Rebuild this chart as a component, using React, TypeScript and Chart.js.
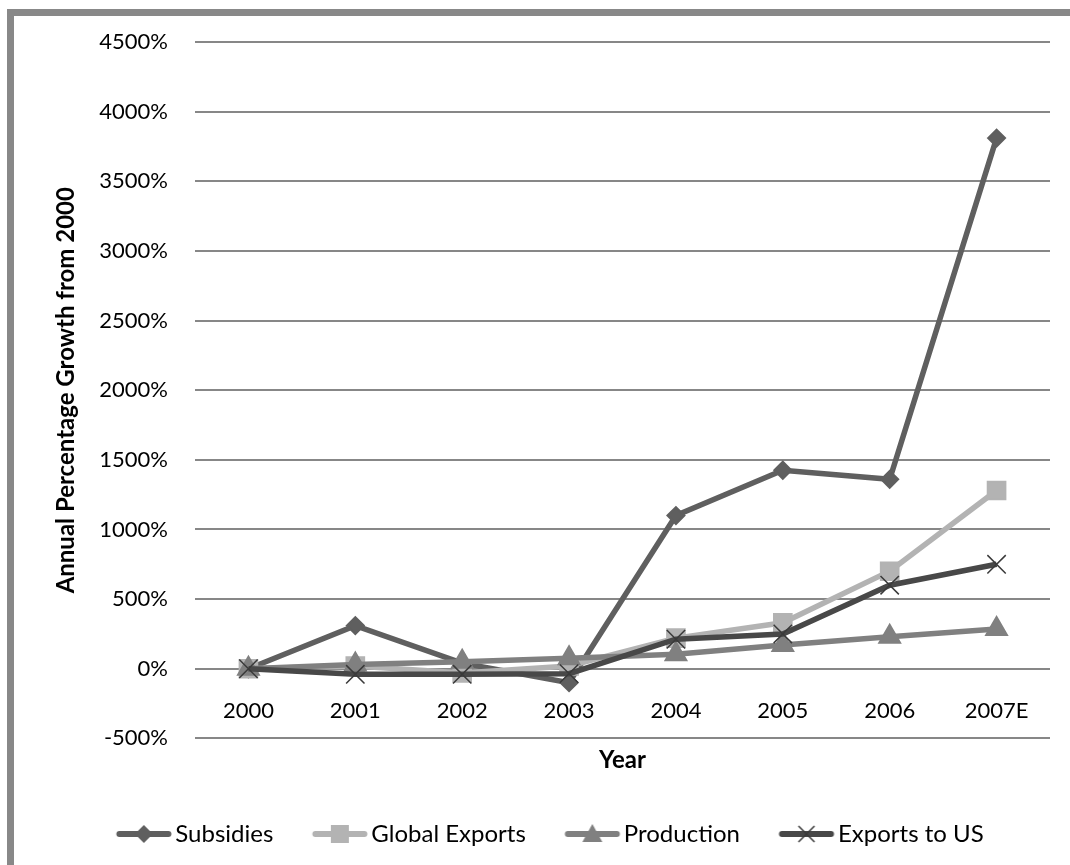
import { useEffect, useRef } from 'react';
import { Chart, registerables } from 'chart.js';

Chart.register(...registerables);

// Category axis and series (annual percentage growth from 2000)
const categories = ['2000', '2001', '2002', '2003', '2004', '2005', '2006', '2007E'];
const subsidies = [0, 310, 40, -100, 1100, 1425, 1360, 3810];
const globalExports = [0, 20, -30, 20, 220, 330, 700, 1280];
const production = [0, 30, 50, 75, 105, 170, 230, 285];
const exportsToUS = [0, -40, -40, -35, 212, 250, 600, 750];

const seriesNames = ['Subsidies', 'Global Exports', 'Production', 'Exports to US'];

const yMin = -500;
const yMax = 4500;
const yStep = 500;

const FONT = 'Lato';
const GRID = '#878787';
const COLORS = ['#5f5f5f', '#b3b3b3', '#808080', '#484848'];

const CANVAS_W = 1080;
const CANVAS_H = 840;

type Marker = 'diamond' | 'square' | 'triangle' | 'cross';

// Legend swatch: a short line with the series marker in its middle
function makeLegendIcon(color: string, marker: Marker): HTMLCanvasElement {
  const c = document.createElement('canvas');
  c.width = 60;
  c.height = 24;
  const g = c.getContext('2d')!;
  g.strokeStyle = color;
  g.lineWidth = 6;
  g.lineCap = 'round';
  g.beginPath();
  g.moveTo(5.5, 12);
  g.lineTo(54.5, 12);
  g.stroke();
  const cx = 30;
  const cy = 12;
  g.fillStyle = color;
  g.beginPath();
  if (marker === 'diamond') {
    g.moveTo(cx, cy - 9);
    g.lineTo(cx + 9, cy);
    g.lineTo(cx, cy + 9);
    g.lineTo(cx - 9, cy);
    g.closePath();
    g.fill();
  } else if (marker === 'square') {
    g.rect(cx - 9, cy - 9, 18, 18);
    g.fill();
  } else if (marker === 'triangle') {
    g.moveTo(cx, cy - 10);
    g.lineTo(cx + 10, cy + 8);
    g.lineTo(cx - 10, cy + 8);
    g.closePath();
    g.fill();
  } else {
    g.strokeStyle = '#3a3a3a';
    g.lineWidth = 1.5;
    g.lineCap = 'butt';
    g.moveTo(cx - 8, cy - 8);
    g.lineTo(cx + 8, cy + 8);
    g.moveTo(cx + 8, cy - 8);
    g.lineTo(cx - 8, cy + 8);
    g.stroke();
  }
  return c;
}

export default function App() {
  const canvasRef = useRef<HTMLCanvasElement>(null);

  useEffect(() => {
    const canvas = canvasRef.current;
    if (!canvas) return;

    const icons = [
      makeLegendIcon(COLORS[0], 'diamond'),
      makeLegendIcon(COLORS[1], 'square'),
      makeLegendIcon(COLORS[2], 'triangle'),
      makeLegendIcon(COLORS[3], 'cross'),
    ];

    const chart = new Chart(canvas, {
      type: 'line',
      data: {
        labels: categories,
        datasets: [
          {
            label: seriesNames[0],
            data: subsidies,
            borderColor: COLORS[0],
            backgroundColor: COLORS[0],
            borderWidth: 5.5,
            pointStyle: 'rectRot',
            pointRadius: 8.5,
            pointBorderWidth: 2,
            pointBackgroundColor: COLORS[0],
            pointBorderColor: COLORS[0],
            order: 3,
          },
          {
            label: seriesNames[1],
            data: globalExports,
            borderColor: COLORS[1],
            backgroundColor: COLORS[1],
            borderWidth: 5.5,
            pointStyle: 'rect',
            pointRadius: 12.5,
            pointBorderWidth: 2,
            pointBackgroundColor: COLORS[1],
            pointBorderColor: COLORS[1],
            order: 2,
          },
          {
            label: seriesNames[2],
            data: production,
            borderColor: COLORS[2],
            backgroundColor: COLORS[2],
            borderWidth: 5.5,
            pointStyle: 'triangle',
            pointRadius: 12,
            pointBorderWidth: 2,
            pointBackgroundColor: COLORS[2],
            pointBorderColor: COLORS[2],
            order: 1,
          },
          {
            label: seriesNames[3],
            data: exportsToUS,
            borderColor: COLORS[3],
            backgroundColor: COLORS[3],
            borderWidth: 5.5,
            pointStyle: 'crossRot',
            pointRadius: 13,
            pointBorderWidth: 1.5,
            pointBackgroundColor: '#3a3a3a',
            pointBorderColor: '#3a3a3a',
            order: 0,
          },
        ],
      },
      options: {
        responsive: false,
        animation: false,
        devicePixelRatio: 1,
        layout: { padding: { top: 26, right: 44, bottom: 0, left: 44 } },
        elements: { line: { tension: 0, fill: false } },
        scales: {
          x: {
            type: 'category',
            position: { y: 0 },
            offset: true,
            grid: { display: false, drawTicks: false },
            border: { display: false },
            ticks: {
              padding: 28.6,
              color: '#000',
              font: { family: FONT, size: 22 },
              maxRotation: 0,
              autoSkip: false,
            },
            title: {
              display: true,
              text: 'Year',
              color: '#000',
              font: { family: FONT, size: 24, weight: 'bold' },
              padding: 0,
            },
            afterFit: (scale: any) => {
              scale.height = 105.7;
            },
          },
          y: {
            min: yMin,
            max: yMax,
            grid: {
              color: GRID,
              lineWidth: 2,
              drawTicks: true,
              tickLength: 27,
              tickColor: 'rgba(0,0,0,0)',
            },
            border: { display: false },
            ticks: {
              stepSize: yStep,
              padding: 0,
              color: '#000',
              font: { family: FONT, size: 22 },
              callback: (v: any) => `${v}%`,
            },
            title: {
              display: true,
              text: 'Annual Percentage Growth from 2000',
              color: '#000',
              font: { family: FONT, size: 24, weight: 'bold' },
              padding: { top: -6.4, bottom: 0 },
            },
            afterFit: (scale: any) => {
              scale.width = 137;
            },
          },
        },
        plugins: {
          tooltip: { enabled: false },
          legend: {
            position: 'bottom',
            title: {
              display: true,
              text: '',
              font: { size: 10 },
              padding: { top: 24.6, bottom: 0 },
            },
            labels: {
              usePointStyle: true,
              pointStyleWidth: 39,
              padding: 47,
              color: '#000',
              font: { family: FONT, size: 24 },
              sort: (a: any, b: any) => a.datasetIndex - b.datasetIndex,
              generateLabels: (c: any) => {
                const items = Chart.defaults.plugins.legend.labels.generateLabels(c);
                return items.map((it: any) => ({
                  ...it,
                  pointStyle: icons[it.datasetIndex],
                  lineWidth: 0,
                }));
              },
            },
          },
        },
      },
    } as any);

    return () => chart.destroy();
  }, []);

  return (
    <div style={{ position: 'fixed', inset: 0, overflow: 'hidden', background: '#fff' }}>
      <div
        style={{
          position: 'absolute',
          left: 7,
          top: 9,
          width: CANVAS_W,
          height: 920,
          border: '7px solid #888888',
          background: '#fff',
        }}
      >
        <canvas
          ref={canvasRef}
          width={CANVAS_W}
          height={CANVAS_H}
          style={{ display: 'block', width: CANVAS_W, height: CANVAS_H }}
        />
      </div>
    </div>
  );
}
